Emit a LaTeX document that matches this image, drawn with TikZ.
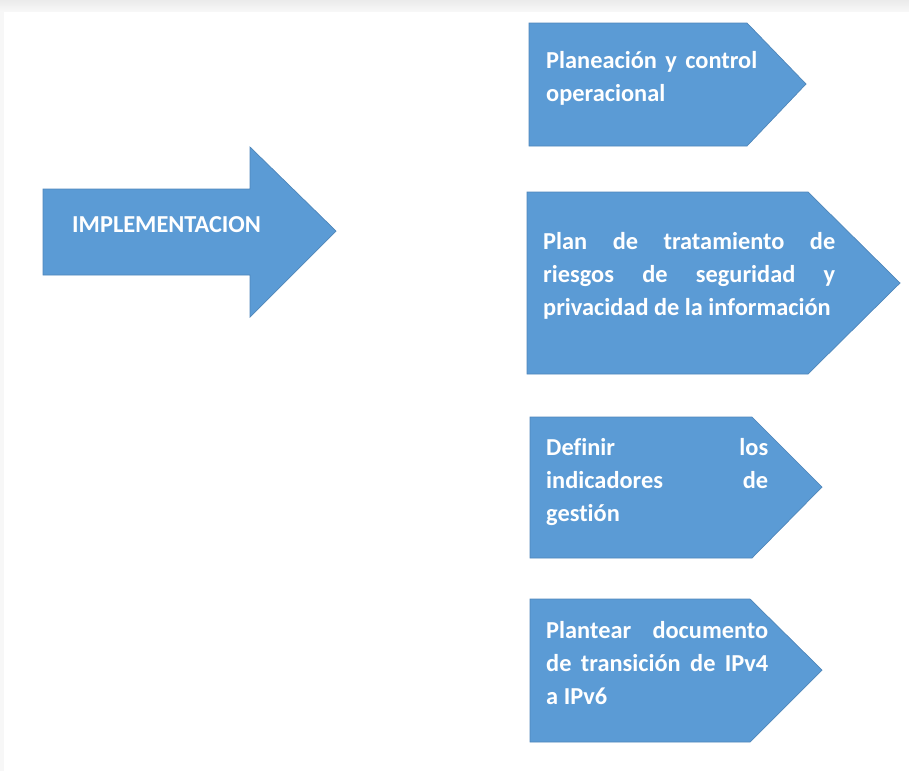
\documentclass[tikz,border=0pt]{standalone}
\usepackage{fontspec}
\setmainfont{Carlito}[Ligatures=NoCommon]
\usetikzlibrary{positioning}

\definecolor{officeblue}{HTML}{5B9BD5}
\definecolor{officeedge}{HTML}{4F86BA}

\begin{document}
\begin{tikzpicture}[x=0.03cm, y=-0.03cm]
    \tikzset{
        block/.style={fill=officeblue, draw=officeedge, line width=0.6pt, line join=miter},
        block text/.style={
                font=\fontsize{20.8}{28.2}\selectfont\bfseries, text=white,
                anchor=north west, inner sep=0pt, align=justify
            },
        title text/.style={
                font=\fontsize{20.8}{28.2}\selectfont\bfseries, text=white,
                anchor=base west, inner sep=0pt
            }
    }
    \useasboundingbox (0,0) rectangle (909,771);
    \shade[top color=gray!16, bottom color=gray!6] (0,0) rectangle (909,11);
    \fill[gray!6] (0,11) rectangle (4,771);

    % big arrow
    \draw[block] (43,189) -- (250,189) -- (250,147) -- (336,231) -- (250,317) -- (250,275) -- (43,275) -- cycle;
    \node[title text] (impl) at (72,232) {IMPLEMENTACION};

    % pentagons
    \draw[block] (529,23) -- (747,23) -- (806,84) -- (747,146) -- (529,146) -- cycle;
    \node[block text, text width=6.33cm] (plan) at (546,51)
        {Planeación y control\linebreak operacional};

    \draw[block] (527,192) -- (808,192) -- (900,283) -- (808,374) -- (527,374) -- cycle;
    \node[block text, text width=8.76cm] (riesgos) at (543,232)
        {Plan de tratamiento de\linebreak riesgos de seguridad y\linebreak privacidad de la información};

    \draw[block] (530,417) -- (752,417) -- (822,487) -- (752,558) -- (530,558) -- cycle;
    \node[block text, text width=6.66cm] (indicadores) at (546,438)
        {Definir los\linebreak indicadores de\linebreak gestión};

    \draw[block] (530,599) -- (750,599) -- (822,670) -- (750,742) -- (530,742) -- cycle;
    \node[block text, text width=6.66cm] (ipv6) at (546,621)
        {Plantear documento\linebreak de transición de IPv4\linebreak a IPv6};
\end{tikzpicture}
\end{document}
